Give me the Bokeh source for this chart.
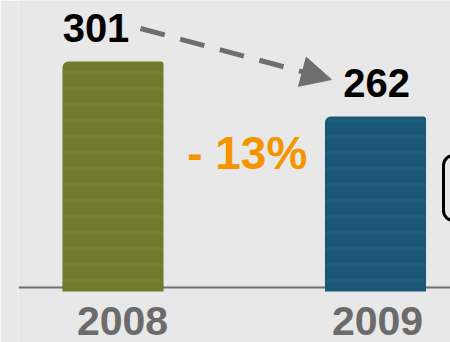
from bokeh.plotting import figure
from bokeh.models import Range1d, Span, Arrow, NormalHead
from bokeh.core.properties import value
from bokeh.embed import file_html
from bokeh.resources import INLINE

# ---- data ----
years = ["2008", "2009"]
sales = [301, 262]
bar_colors = ["#6f7a2b", "#1a5676"]
streak_colors = ["#8c9442", "#2c6e8e"]

change_pct = round((sales[1] - sales[0]) / sales[0] * 100)
change_label = f"- {abs(change_pct)}%"

idx = list(range(len(years)))
BASE = 137.9          # truncated bottom of the bars
LINE_LEVEL = 140.75   # baseline

FONT = value("Liberation Sans")

p = figure(width=450, height=342,
           x_range=Range1d(-0.36, 1.2857), y_range=Range1d(101.75, 344.25),
           output_backend="svg", toolbar_location=None,
           x_axis_location=None, y_axis_location=None,
           min_border_left=18, min_border_right=0,
           min_border_top=0, min_border_bottom=0)
p.background_fill_color = "#e8e8e8"
p.border_fill_color = "#e8e8e8"
p.outline_line_color = None
for g in p.grid:
    g.visible = False

base_line = Span(location=LINE_LEVEL, dimension="width",
                 line_color="#6f6f6f", line_width=2, level="underlay")
p.add_layout(base_line)

p.vbar(x=idx, top=sales, bottom=BASE, width=0.385,
       fill_color=bar_colors, line_color=None, border_radius=(6, 3, 0, 0),
       hatch_pattern="horizontal_line", hatch_color=streak_colors,
       hatch_scale=16, hatch_weight=4, hatch_alpha=0.25)

# value labels
p.text(x=idx, y=sales, text=[str(s) for s in sales],
       x_offset=[-17, 1], y_offset=[-33, -33],
       text_align="center", text_baseline="alphabetic",
       text_font=FONT, text_font_style="bold", text_font_size="40px",
       text_color="black")

# year labels
p.text(x=idx, y=[BASE] * len(idx), text=years,
       x_offset=[9.5, 2], y_offset=[29, 29],
       text_align="center", text_baseline="alphabetic",
       text_font=FONT, text_font_style="bold", text_font_size="41px",
       text_color="#6b6b6b")

# change label
p.text(x=[(idx[0] + idx[1]) / 2], y=[(sales[0] + sales[1]) / 2],
       text=[change_label], x_offset=[3], y_offset=[64],
       text_align="center", text_baseline="alphabetic",
       text_font=FONT, text_font_style="bold", text_font_size="46px",
       text_color="#f39400")

# dashed arrow
arrow = Arrow(x_start=idx[0] + 0.105, y_start=sales[0] + 23.4,
              x_end=idx[1] - 0.168, y_end=sales[1] + 26.2,
              line_color="#6e6e6e", line_width=5, line_dash="25 16",
              end=NormalHead(size=30, fill_color="#6e6e6e", line_color="#6e6e6e"))
p.add_layout(arrow)

# partially visible callout box on the right
p.quad(left=[1.259], right=[1.45], top=[234.35], bottom=[188.26],
       fill_color=None, line_color="black", line_width=3, border_radius=10)

open("out.html", "w").write(file_html(p, INLINE))
